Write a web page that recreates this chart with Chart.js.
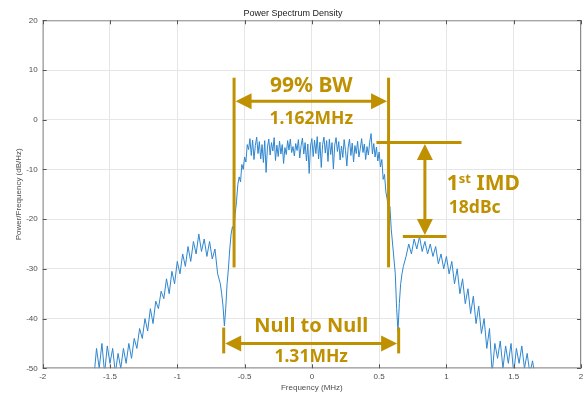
<!DOCTYPE html>
<html>
<head>
<meta charset="utf-8">
<script src="https://cdn.jsdelivr.net/npm/chart.js@4.4.1/dist/chart.umd.min.js"></script>
<style>
    html, body { margin: 0; padding: 0; background: #fff; }
</style>
</head>
<body>
<canvas id="psdChart" width="586" height="394"></canvas>
<script>
// frequency bins (MHz) and PSD (dB/Hz)
const freqMHz = [
    -1.62, -1.60, -1.58, -1.56, -1.54, -1.52, -1.50, -1.48, -1.46, -1.44, -1.42, -1.40, -1.38, -1.36, -1.34, -1.32,
    -1.30, -1.28, -1.26, -1.24, -1.22, -1.20, -1.18, -1.16, -1.14, -1.12, -1.10, -1.08, -1.06, -1.04, -1.02, -1.00,
    -0.98, -0.96, -0.94, -0.92, -0.90, -0.88, -0.86, -0.84, -0.82, -0.80, -0.78, -0.76, -0.74, -0.72, -0.70, -0.68,
    -0.67, -0.66, -0.65, -0.64, -0.63, -0.62, -0.61, -0.60, -0.59, -0.58, -0.57, -0.56, -0.55, -0.54, -0.53, -0.52,
    -0.51, -0.50, -0.49, -0.48, -0.47, -0.46, -0.45, -0.44, -0.43, -0.42, -0.41, -0.40, -0.39, -0.38, -0.37, -0.36,
    -0.35, -0.34, -0.33, -0.32, -0.31, -0.30, -0.29, -0.28, -0.27, -0.26, -0.25, -0.24, -0.23, -0.22, -0.21, -0.20,
    -0.19, -0.18, -0.17, -0.16, -0.15, -0.14, -0.13, -0.12, -0.11, -0.10, -0.09, -0.08, -0.07, -0.06, -0.05, -0.04,
    -0.03, -0.02, -0.01, 0.00, 0.01, 0.02, 0.03, 0.04, 0.05, 0.06, 0.07, 0.08, 0.09, 0.10, 0.11, 0.12,
    0.13, 0.14, 0.15, 0.16, 0.17, 0.18, 0.19, 0.20, 0.21, 0.22, 0.23, 0.24, 0.25, 0.26, 0.27, 0.28,
    0.29, 0.30, 0.31, 0.32, 0.33, 0.34, 0.35, 0.36, 0.37, 0.38, 0.39, 0.40, 0.41, 0.42, 0.43, 0.44,
    0.45, 0.46, 0.47, 0.48, 0.49, 0.50, 0.51, 0.52, 0.53, 0.54, 0.55, 0.56, 0.57, 0.58, 0.59, 0.60,
    0.61, 0.62, 0.63, 0.64, 0.65, 0.66, 0.67, 0.68, 0.70, 0.72, 0.74, 0.76, 0.78, 0.80, 0.82, 0.84,
    0.86, 0.88, 0.90, 0.92, 0.94, 0.96, 0.98, 1.00, 1.02, 1.04, 1.06, 1.08, 1.10, 1.12, 1.14, 1.16,
    1.18, 1.20, 1.22, 1.24, 1.26, 1.28, 1.30, 1.32, 1.34, 1.36, 1.38, 1.40, 1.42, 1.44, 1.46, 1.48,
    1.50, 1.52, 1.54, 1.56, 1.58, 1.60, 1.62, 1.64, 1.66
];
const psdDb = [
    -52, -46, -50, -45, -51, -45.5, -49, -46, -51, -47, -50, -46, -49, -45, -48, -44,
    -46, -42, -44, -40, -42.5, -38, -41, -36.5, -38, -34.5, -36, -32, -35, -30.5, -33, -28.5,
    -31, -27, -29.5, -25.5, -28.5, -24.5, -27, -23, -26.5, -24, -27.5, -24.5, -28, -26, -31, -33,
    -35, -37.5, -41.5, -38, -33, -30, -26, -23, -21.5, -22.5, -19, -16.5, -13, -11.5, -12.5, -9,
    -10, -7.5, -8.5, -5, -6.0, -3.8, -7.2, -4.1, -8.0, -5.2, -3.5, -6.8, -4.4, -7.9, -5.0, -8.6,
    -4.2, -10.6, -5.5, -3.9, -7.1, -4.6, -6.3, -3.6, -8.2, -5.1, -7.4, -4.3, -6.9, -5.0, -8.8, -5.6,
    -7.0, -4.2, -6.1, -3.9, -6.6, -5.4, -7.3, -4.8, -6.2, -4.0, -7.7, -5.2, -3.7, -6.9, -4.6, -8.3,
    -4.9, -10.8, -5.3, -3.8, -7.4, -4.1, -6.8, -3.4, -7.9, -4.5, -9.6, -5.0, -3.5, -6.7, -4.2, -8.4,
    -3.9, -7.0, -4.6, -9.9, -5.1, -3.6, -6.4, -4.4, -8.1, -5.3, -7.6, -4.0, -6.2, -9.3, -5.5, -3.9,
    -7.2, -4.7, -8.5, -5.2, -6.8, -4.3, -7.5, -5.8, -3.8, -6.6, -4.9, -8.0, -5.4, -7.1, -4.5, -2.8,
    -6.9, -4.8, -7.5, -5.5, -8.3, -6.5, -9.5, -8.0, -12.0, -11.0, -14.5, -16.0, -18.5, -17.5, -22, -25,
    -28, -31, -38, -42.5, -37, -33, -31, -29.5, -27.5, -25, -27, -24, -26, -23.5, -26.5, -24.5,
    -27, -25, -27.5, -25.5, -29, -27, -30, -27.5, -31, -28.5, -33, -30, -35, -32, -37, -34,
    -39, -35.5, -41, -37.5, -43, -40, -46, -42, -51, -45, -48, -44.5, -50, -45.5, -49, -45,
    -51, -46, -49, -45.5, -50, -47, -51, -48.5, -52
];
const xTicks = [-2, -1.5, -1, -0.5, 0, 0.5, 1, 1.5, 2];
const yTicks = [-50, -40, -30, -20, -10, 0, 10, 20];

// annotation anchors in data units (MHz / dB)
const bwEdges = [-0.578, 0.570];
const nullEdges = [-0.655, 0.645];
const imdLevels = [-4.6, -23.5];
const bwLabels = ['99% BW', '1.162MHz'];
const nullLabels = ['Null to Null', '1.31MHz'];
const imdLabels = ['1', 'st', ' IMD', '18dBc'];

const gold = '#BF9000';
const labelFont = '"Noto Sans", "Open Sans", sans-serif';

function arrowHead(ctx, tipX, tipY, dx, dy) {
    // dx,dy: unit direction the arrow points to
    const len = 16, half = 8;
    const bx = tipX - dx * len, by = tipY - dy * len;
    ctx.beginPath();
    ctx.moveTo(tipX, tipY);
    ctx.lineTo(bx - dy * half, by + dx * half);
    ctx.lineTo(bx + dy * half, by - dx * half);
    ctx.closePath();
    ctx.fill();
}

function seg(ctx, x1, y1, x2, y2) {
    ctx.beginPath();
    ctx.moveTo(x1, y1);
    ctx.lineTo(x2, y2);
    ctx.stroke();
}

const frameAndTicks = {
    id: 'frameAndTicks',
    afterDatasetsDraw(chart) {
        const { ctx, chartArea: a, scales: { x, y } } = chart;
        ctx.save();
        ctx.strokeStyle = '#8a8a8a';
        ctx.lineWidth = 1;
        ctx.strokeRect(a.left + 0.5, a.top + 0.5, a.right - a.left - 1, a.bottom - a.top - 1);
        ctx.strokeStyle = '#555';
        xTicks.forEach(v => {
            const px = Math.round(x.getPixelForValue(v)) + 0.5;
            seg(ctx, px, a.bottom, px, a.bottom - 4);
            seg(ctx, px, a.top, px, a.top + 4);
        });
        yTicks.forEach(v => {
            const py = Math.round(y.getPixelForValue(v)) + 0.5;
            seg(ctx, a.left, py, a.left + 4, py);
            seg(ctx, a.right, py, a.right - 4, py);
        });
        ctx.restore();
    }
};

const annotations = {
    id: 'annotations',
    afterDraw(chart) {
        const { ctx, scales: { x, y } } = chart;
        const X = v => x.getPixelForValue(v);
        const Y = v => y.getPixelForValue(v);
        ctx.save();
        ctx.strokeStyle = gold;
        ctx.fillStyle = gold;
        ctx.lineWidth = 3;
        ctx.textAlign = 'center';
        ctx.textBaseline = 'middle';

        // 99% bandwidth
        const bl = X(bwEdges[0]), br = X(bwEdges[1]);
        seg(ctx, bl, Y(8.45), bl, Y(-29.7));
        seg(ctx, br, Y(8.45), br, Y(-29.7));
        const by = Y(3.7);
        seg(ctx, bl + 14, by, br - 14, by);
        arrowHead(ctx, bl + 1.5, by, -1, 0);
        arrowHead(ctx, br - 1.5, by, 1, 0);
        const bc = (bl + br) / 2;
        ctx.font = 'bold 21px ' + labelFont;
        ctx.fillText(bwLabels[0], bc, Y(6.8));
        ctx.font = 'bold 17.5px ' + labelFont;
        ctx.fillText(bwLabels[1], bc, Y(0.2));

        // null to null
        const nl = X(nullEdges[0]), nr = X(nullEdges[1]);
        seg(ctx, nl, Y(-41.8), nl, Y(-47));
        seg(ctx, nr, Y(-41.8), nr, Y(-47));
        const ny = Y(-45);
        seg(ctx, nl + 14, ny, nr - 14, ny);
        arrowHead(ctx, nl + 1.5, ny, -1, 0);
        arrowHead(ctx, nr - 1.5, ny, 1, 0);
        const nc = (nl + nr) / 2;
        ctx.font = 'bold 20px ' + labelFont;
        ctx.fillText(nullLabels[0], nc, Y(-41.6));
        ctx.font = 'bold 17.5px ' + labelFont;
        ctx.fillText(nullLabels[1], nc, Y(-47.7));

        // 1st IMD
        const ty = Y(imdLevels[0]), ly = Y(imdLevels[1]);
        seg(ctx, X(0.48), ty, X(1.112), ty);
        seg(ctx, X(0.676), ly, X(1.0), ly);
        const ax = X(0.84);
        seg(ctx, ax, ty + 14, ax, ly - 14);
        arrowHead(ctx, ax, ty + 1.5, 0, -1);
        arrowHead(ctx, ax, ly - 1.5, 0, 1);

        ctx.textAlign = 'left';
        let tx = X(1.003);
        const iy = Y(-12.9);
        ctx.font = 'bold 21px ' + labelFont;
        ctx.fillText(imdLabels[0], tx, iy);
        tx += ctx.measureText(imdLabels[0]).width;
        ctx.font = 'bold 13px ' + labelFont;
        ctx.fillText(imdLabels[1], tx, iy - 5);
        tx += ctx.measureText(imdLabels[1]).width;
        ctx.font = 'bold 21px ' + labelFont;
        ctx.fillText(imdLabels[2], tx, iy);
        ctx.font = 'bold 17.5px ' + labelFont;
        ctx.fillText(imdLabels[3], X(1.018), Y(-17.7));
        ctx.restore();
    }
};

const tickFont = { family: '"Liberation Sans", Arial, sans-serif', size: 8 };

new Chart(document.getElementById('psdChart'), {
    type: 'line',
    data: {
        datasets: [{
            data: freqMHz.map((f, i) => ({ x: f, y: psdDb[i] })),
            borderColor: '#2F86CF',
            borderWidth: 1,
            pointRadius: 0,
            tension: 0
        }]
    },
    options: {
        responsive: false,
        animation: false,
        layout: { padding: { left: 0, right: 0, top: 0, bottom: 0 } },
        plugins: {
            legend: { display: false },
            tooltip: { enabled: false },
            title: {
                display: true,
                text: 'Power Spectrum Density',
                color: '#222',
                font: { family: '"Liberation Sans", Arial, sans-serif', size: 9, weight: 'normal' },
                padding: { top: 8, bottom: 1.5 }
            }
        },
        scales: {
            x: {
                type: 'linear',
                min: -2,
                max: 2,
                afterBuildTicks: s => { s.ticks = xTicks.map(v => ({ value: v })); },
                afterFit: s => { s.height = 25.7; s.paddingLeft = 0; s.paddingRight = 5; },
                grid: { color: '#e6e6e6', drawTicks: false },
                border: { display: false },
                ticks: { color: '#4d4d4d', font: tickFont, padding: 4, maxRotation: 0, autoSkip: false,
                    callback: v => String(v) },
                title: {
                    display: true,
                    text: 'Frequency (MHz)',
                    color: '#4d4d4d',
                    font: tickFont,
                    padding: { top: 0, bottom: 1 }
                }
            },
            y: {
                min: -50,
                max: 20,
                afterBuildTicks: s => { s.ticks = yTicks.map(v => ({ value: v })); },
                afterFit: s => { s.width = 42.7; },
                grid: { color: '#e6e6e6', drawTicks: false },
                border: { display: false },
                ticks: { color: '#4d4d4d', font: tickFont, padding: 5, callback: v => String(v) },
                title: {
                    display: true,
                    text: 'Power/Frequency (dB/Hz)',
                    color: '#4d4d4d',
                    font: tickFont,
                    padding: { top: 14, bottom: 0 }
                }
            }
        }
    },
    plugins: [frameAndTicks, annotations]
});
</script>
</body>
</html>
